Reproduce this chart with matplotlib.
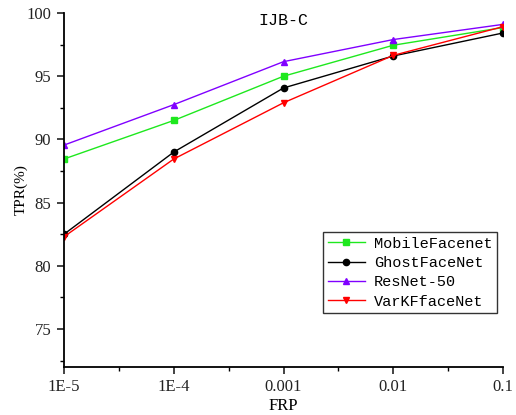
import numpy as np
import matplotlib
matplotlib.use('Agg')
import matplotlib.pyplot as plt
from matplotlib.ticker import FixedLocator, NullFormatter

# =============================================================================
# Define variables
# =============================================================================
frp = [1e-5, 1e-4, 1e-3, 1e-2, 1e-1]
frp_labels = ['1E-5', '1E-4', '0.001', '0.01', '0.1']

mobile = [88.45, 91.5, 95.0, 97.45, 98.85]
ghost = [82.5, 89.0, 94.07, 96.6, 98.42]
resnet = [89.55, 92.75, 96.15, 97.9, 99.1]
varkf = [82.3, 88.45, 92.9, 96.65, 98.92]

names = ['MobileFacenet', 'GhostFaceNet', 'ResNet-50', 'VarKFfaceNet']
colors = ['#1ee81e', 'black', '#8000ff', '#ff0000']
markers = ['s', 'o', '^', 'v']

SERIF = 'Liberation Serif'
MONO = 'Liberation Mono'

# =============================================================================
# Start of code
# =============================================================================
if __name__ == "__main__":
    fig = plt.figure(figsize=(5.16, 4.15), dpi=100)
    ax = fig.add_axes([0.124, 0.1157, 0.851, 0.853])

    series = [mobile, ghost, resnet, varkf]
    for vals, name, col, mk in zip(series, names, colors, markers):
        ax.plot(frp, vals, color=col, marker=mk, markersize=4.5, lw=1.0,
                label=name)

    ax.set_xscale('log')
    ax.set_xlim(1e-5, 1e-1)
    ax.set_ylim(72, 100)

    ax.xaxis.set_major_locator(FixedLocator(frp))
    ax.set_xticklabels(frp_labels)
    minor_x = [10 ** (k + 0.5) for k in range(-5, -1)]
    ax.xaxis.set_minor_locator(FixedLocator(minor_x))
    ax.xaxis.set_minor_formatter(NullFormatter())

    ax.yaxis.set_major_locator(FixedLocator([75, 80, 85, 90, 95, 100]))
    ax.yaxis.set_minor_locator(FixedLocator([72.5, 77.5, 82.5, 87.5,
                                             92.5, 97.5]))

    for s in ['top', 'right']:
        ax.spines[s].set_visible(False)
    for s in ['left', 'bottom']:
        ax.spines[s].set_linewidth(1.3)

    ax.tick_params(which='major', direction='out', length=5, width=1.2,
                   labelsize=12, pad=4, colors='#222222')
    ax.tick_params(which='minor', direction='out', length=3, width=1.0)
    for lab in ax.get_xticklabels() + ax.get_yticklabels():
        lab.set_fontfamily(SERIF)

    ax.set_xlabel('FRP', fontfamily=SERIF, fontsize=12, labelpad=2)
    ax.set_ylabel('TPR(%)', fontfamily=SERIF, fontsize=11, labelpad=-1)

    ax.text(0.5, 1.0, 'IJB-C', transform=ax.transAxes, ha='center',
            va='top', fontfamily=MONO, fontsize=12)

    leg = ax.legend(loc='upper right', bbox_to_anchor=(0.986, 0.381),
                    borderaxespad=0, prop={'family': MONO, 'size': 11},
                    frameon=True, fancybox=False, handlelength=2.4,
                    labelspacing=0.35, borderpad=0.3, handletextpad=0.6)
    leg.get_frame().set_edgecolor('black')
    leg.get_frame().set_linewidth(1.0)

    fig.savefig('out.png', dpi=100)
    plt.close()
